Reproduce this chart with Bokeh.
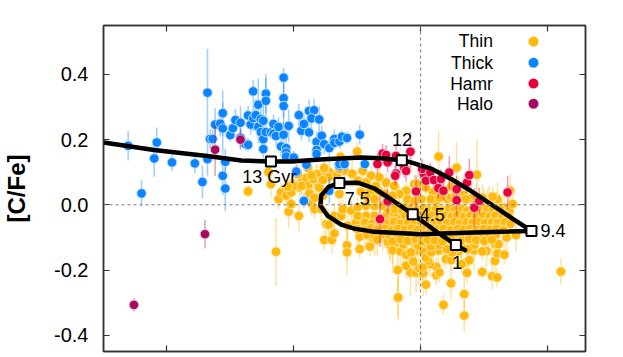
from bokeh.plotting import figure
from bokeh.embed import file_html
from bokeh.resources import INLINE
from bokeh.models import LinearAxis, FixedTicker, Span, Range1d, CustomLabelingPolicy
from bokeh.core.properties import value

y_ticks = [-0.4, -0.2, 0.0, 0.2, 0.4]
y_tick_labels = ["-0.4", "-0.2", "0.0", "0.2", "0.4"]
x_ticks = [-1.0, -0.5, 0.0, 0.5]

thick_feh = [-1.153,-1.04,-1.05,-0.98,-0.89,-0.86,-1.10,-0.84,-0.84,-0.81,-0.83,-0.82,-0.79,-0.78,-0.78,-0.75,-0.74,-0.73,-0.71,-0.71,
 -0.69,-0.68,-0.68,-0.67,-0.66,-0.65,-0.66,-0.64,-0.64,-0.63,-0.62,-0.63,-0.62,-0.61,-0.61,-0.62,-0.61,-0.59,-0.58,-0.58,
 -0.57,-0.56,-0.54,-0.54,-0.54,-0.54,-0.52,-0.55,-0.53,-0.53,-0.53,-0.50,-0.49,-0.48,-0.47,-0.46,-0.44,-0.42,-0.43,-0.40,
 -0.44,-0.45,-0.41,-0.39,-0.38,-0.41,-0.41,-0.36,-0.34,-0.34,-0.32,-0.31,-0.29,-0.24,-0.32,-0.30,-0.77,-0.78,-0.77,-0.46,
 -0.32,-0.30,-0.22,-0.36]
thick_cfe = [0.181,0.191,0.142,0.13,0.127,0.07,0.035,0.344,0.14,0.246,0.202,0.202,0.249,0.281,0.234,0.214,0.235,0.26,0.252,0.206,
 0.186,0.184,0.274,0.246,0.266,0.275,0.348,0.307,0.239,0.263,0.258,0.223,0.201,0.341,0.319,0.171,0.223,0.222,0.248,0.218,
 0.211,0.239,0.215,0.39,0.327,0.303,0.242,0.179,0.174,0.16,0.148,0.145,0.102,0.275,0.227,0.248,0.288,0.29,0.265,0.262,
 0.222,0.123,0.193,0.212,0.186,0.168,0.156,0.174,0.202,0.19,0.194,0.209,0.205,0.215,0.12,0.125,0.132,0.089,0.05,0.012,
 0.125,0.125,0.125,0.043]
thick_err = [0.045,0.046,0.056,0.026,0.03,0.05,0.04,0.135,0.05,0.05,0.03,0.03,0.04,0.07,0.08,0.02,0.03,0.035,0.05,0.03,
 0.02,0.02,0.03,0.03,0.04,0.05,0.035,0.08,0.05,0.06,0.05,0.03,0.03,0.06,0.07,0.03,0.03,0.02,0.03,0.02,
 0.03,0.03,0.04,0.03,0.06,0.06,0.05,0.03,0.03,0.02,0.02,0.02,0.02,0.035,0.03,0.03,0.035,0.035,0.035,0.04,
 0.03,0.02,0.03,0.03,0.03,0.02,0.02,0.03,0.03,0.02,0.02,0.02,0.02,0.03,0.02,0.02,0.04,0.06,0.07,0.02,
 0.02,0.02,0.02,0.04]

hamr_feh = [-0.15,-0.136,-0.17,-0.13,-0.097,-0.04,-0.097,-0.10,-0.064,-0.057,-0.018,-0.13,-0.16,0.012,0.006,0.021,0.038,0.052,0.08,0.07,
 0.09,0.113,0.142,0.142,0.183,0.192,0.212,0.343,0.231]
hamr_cfe = [0.157,0.153,0.125,0.13,0.15,0.163,0.096,0.089,0.113,0.104,0.041,0.01,-0.044,0.096,0.11,0.074,0.099,0.076,0.079,0.051,
 0.043,0.099,0.048,0.014,0.068,0.091,-0.009,0.038,0.012]
hamr_err = [0.03,0.03,0.03,0.03,0.03,0.06,0.03,0.03,0.03,0.03,0.05,0.04,0.085,0.03,0.03,0.03,0.03,0.03,0.03,0.03,
 0.03,0.05,0.04,0.05,0.03,0.05,0.06,0.05,0.04]

halo_feh = [-0.81,-0.71,-0.85,-1.13]
halo_cfe = [0.169,0.20,-0.09,-0.307]
halo_err = [0.08,0.03,0.044,0.02]

thin_feh = [-0.29,-0.29,-0.24,-0.24,-0.20,-0.13,-0.09,-0.09,-0.04,-0.018,0.01,0.021,0.09,0.12,0.172,0.172,0.183,0.243,0.282,0.302,
 0.062,0.062,0.074,-0.007,-0.057,-0.029,-0.057,-0.038,0.038,0.03,0.021,0.041,0.041,0.008,0.10,0.12,0.124,0.104,0.183,0.192,
 0.162,0.243,0.212,0.293,0.303,0.294,0.553,-0.19,-0.09,-0.068,-0.038,-0.009,0.074,0.146,0.185,
 -0.68,-0.57,-0.088,-0.38,-0.35,-0.34,-0.52,-0.48,-0.51,-0.56,-0.55,-0.53,-0.51,-0.503,-0.59,-0.45,-0.444,-0.478,-0.438,-0.418,
 -0.418,-0.392,-0.405,-0.41,-0.38,-0.40,-0.363,-0.385,-0.372,-0.363,-0.34,-0.313,-0.287,-0.254,-0.32,-0.307,-0.274,-0.248,-0.215,-0.182,
 -0.248,-0.215,-0.182,-0.208,-0.182,-0.149,-0.117,-0.09,-0.064,-0.13,-0.104,-0.143,-0.11,-0.077,
 -0.25,-0.41,-0.316,-0.444,-0.408,-0.425,-0.385,-0.38,-0.484,-0.495,-0.47,-0.523,-0.228,-0.195,-0.163,-0.248,-0.215,-0.176,-0.136,-0.104,
 -0.143,-0.057,-0.025,-0.084,-0.11,-0.051,-0.025,0.071,0.142,0.222,-0.009,0.12,0.048,0.021,0.002,0.041,0.074,0.107,0.12,0.139,
 0.179,0.244,0.303,0.284,0.353,0.363,0.319,0.376,0.339,0.307,0.33,-0.60,-0.43]
thin_cfe = [-0.124,-0.146,-0.136,-0.098,-0.128,-0.113,-0.20,-0.286,-0.208,-0.208,-0.21,-0.245,-0.307,-0.241,-0.274,-0.34,-0.209,-0.206,-0.219,-0.223,
 -0.216,-0.19,-0.208,-0.194,-0.187,-0.174,-0.153,-0.146,-0.182,-0.172,-0.162,-0.146,-0.128,-0.192,-0.167,-0.17,-0.146,-0.136,-0.175,-0.17,
 -0.182,-0.143,-0.123,-0.172,-0.149,-0.121,-0.205,-0.10,-0.116,-0.121,-0.11,-0.126,-0.123,-0.131,-0.136,
 0.041,-0.144,-0.284,-0.108,-0.108,-0.088,-0.021,-0.034,0.002,0.017,0.038,0.028,0.038,0.063,0.063,0.082,0.058,0.053,0.035,0.022,
 -0.013,-0.013,0.058,0.092,0.102,0.053,0.084,0.028,-0.059,-0.061,-0.034,-0.034,-0.064,-0.054,0.033,-0.013,-0.018,-0.008,-0.003,-0.003,
 -0.034,-0.034,-0.034,0.022,0.017,-0.003,-0.008,-0.003,-0.008,-0.024,-0.029,-0.039,-0.049,-0.044,
 0.163,0.16,0.147,0.113,0.094,0.079,0.076,0.113,0.094,0.058,0.058,0.055,0.104,0.089,0.084,0.074,0.068,0.058,0.068,0.058,
 0.033,0.043,0.063,0.033,0.028,0.017,0.012,0.148,0.114,0.092,0.063,0.055,0.038,0.053,0.017,0.017,0.022,0.017,0.022,0.028,
 0.017,0.022,0.017,0.025,0.043,0.002,-0.018,-0.093,-0.10,-0.121,-0.153,0.10,0.09]
thin_err = [0.05,0.07,0.03,0.03,0.03,0.04,0.08,0.06,0.07,0.06,0.07,0.03,0.03,0.05,0.05,0.05,0.03,0.02,0.04,0.03,
 0.03,0.03,0.03,0.05,0.04,0.03,0.04,0.03,0.04,0.04,0.03,0.03,0.03,0.05,0.03,0.03,0.03,0.04,0.04,0.03,
 0.03,0.03,0.03,0.05,0.03,0.03,0.04,0.03,0.03,0.04,0.03,0.03,0.03,0.03,0.03,
 0.02,0.105,0.07,0.03,0.04,0.04,0.05,0.05,0.03,0.03,0.03,0.03,0.03,0.03,0.04,0.03,0.03,0.03,0.03,0.03,
 0.03,0.04,0.03,0.03,0.03,0.03,0.03,0.04,0.05,0.05,0.04,0.04,0.04,0.03,0.03,0.03,0.03,0.03,0.03,0.03,
 0.03,0.03,0.03,0.03,0.03,0.03,0.03,0.03,0.03,0.03,0.03,0.03,0.03,0.03,
 0.03,0.03,0.04,0.03,0.03,0.03,0.03,0.03,0.03,0.03,0.03,0.03,0.03,0.03,0.03,0.03,0.03,0.03,0.03,0.03,
 0.03,0.03,0.03,0.03,0.03,0.03,0.03,0.08,0.08,0.11,0.04,0.05,0.05,0.03,0.03,0.03,0.03,0.03,0.03,0.03,
 0.03,0.04,0.05,0.03,0.05,0.05,0.03,0.05,0.04,0.03,0.03,0.04,0.03]

extra_feh = [-0.235,-0.2,-0.165,-0.12,-0.07,-0.02,0.02,0.05,0.09,0.13,0.16,0.21,-0.11,-0.08,-0.02,0.01,0.07,0.15,0.21,0.26,
 0.06,0.09,0.15,0.17,0.2,0.22,0.25,0.27,0.3,0.33,0.35,-0.47,-0.43,-0.36,-0.33,-0.30,-0.27,-0.32]
extra_cfe = [0.04,0.038,0.042,-0.125,-0.128,-0.124,-0.127,-0.123,-0.126,-0.124,-0.128,-0.125,-0.14,-0.143,-0.141,-0.144,-0.14,-0.143,-0.14,-0.142,
 0.01,0.035,0.035,0.03,0.02,0.005,0.0,-0.002,-0.01,-0.01,-0.02,0.07,0.005,0.1,0.09,0.105,0.095,0.11]
extra_err = [0.03,0.03,0.03,0.05,0.06,0.05,0.06,0.05,0.06,0.05,0.05,0.05,0.07,0.06,0.05,0.07,0.06,0.05,0.06,0.05,
 0.04,0.05,0.05,0.06,0.05,0.06,0.05,0.06,0.05,0.05,0.05,0.04,0.04,0.05,0.04,0.05,0.04,0.05]

dense_feh = [-0.10,-0.072,-0.04,-0.016,0.012,0.033,0.061,0.083,0.112,0.134,0.162,0.184,0.212,0.233,0.262,0.284,0.312,
 -0.06,-0.031,-0.004,0.021,0.044,0.072,0.094,0.122,0.144,0.171,0.196,0.219,0.246,0.271,0.294,0.322,0.346,
 -0.22,-0.19,-0.162,-0.134,-0.104,-0.081,-0.05,-0.024,0.001,0.03,0.054,0.081,0.104,0.132,0.154,0.181,0.204,0.232,0.254,0.282,0.304,0.332,0.354,
 -0.25,-0.221,-0.196,-0.168,-0.141,-0.113,-0.09,-0.061,-0.034,-0.011,0.016,0.04,0.066,0.091,0.119,0.146,0.169,0.196,0.221,0.249,0.276,0.299,0.326,
 -0.211,-0.181,-0.149,-0.121,-0.094,-0.066,-0.039,-0.014,0.011,0.036,0.059,0.091,0.114,0.141,0.164,0.191,0.214,0.241,0.269,0.296,
 -0.171,-0.111,-0.079,-0.051,-0.019,0.006,0.029,0.056,0.086,0.121,0.159,0.191,0.219,0.251,0.281]
dense_cfe = [-0.013,-0.018,-0.012,-0.016,-0.011,-0.017,-0.013,-0.018,-0.012,-0.016,-0.014,-0.018,-0.012,-0.016,-0.013,-0.017,-0.014,
 -0.034,-0.037,-0.032,-0.036,-0.033,-0.038,-0.034,-0.036,-0.032,-0.037,-0.033,-0.036,-0.034,-0.037,-0.033,-0.036,-0.035,
 -0.054,-0.057,-0.053,-0.056,-0.052,-0.058,-0.054,-0.056,-0.053,-0.057,-0.054,-0.052,-0.056,-0.053,-0.058,-0.054,-0.056,-0.053,-0.057,-0.054,-0.056,-0.053,-0.058,
 -0.074,-0.077,-0.072,-0.076,-0.073,-0.078,-0.074,-0.076,-0.073,-0.077,-0.074,-0.072,-0.076,-0.073,-0.078,-0.074,-0.076,-0.073,-0.077,-0.074,-0.076,-0.073,-0.078,
 -0.092,-0.096,-0.091,-0.094,-0.093,-0.097,-0.092,-0.095,-0.091,-0.096,-0.093,-0.094,-0.097,-0.092,-0.095,-0.091,-0.096,-0.093,-0.094,-0.092,
 -0.107,-0.112,-0.106,-0.11,-0.105,-0.111,-0.107,-0.109,-0.112,-0.106,-0.11,-0.105,-0.108,-0.111,-0.107]
dense_err = [0.03,0.04,0.05,0.03,0.04,0.05,0.06,0.03,0.05,0.04,0.06,0.03,0.05,0.04,0.06,0.04,0.05,
 0.04,0.05,0.03,0.06,0.04,0.05,0.03,0.06,0.04,0.05,0.06,0.03,0.05,0.04,0.06,0.05,0.05,
 0.04,0.05,0.06,0.04,0.05,0.03,0.06,0.04,0.05,0.06,0.03,0.04,0.05,0.06,0.03,0.05,0.04,0.06,0.05,0.03,0.05,0.04,0.05,
 0.05,0.06,0.04,0.05,0.06,0.03,0.05,0.07,0.04,0.06,0.05,0.03,0.06,0.04,0.05,0.06,0.03,0.05,0.04,0.06,0.05,0.04,0.03,
 0.05,0.06,0.05,0.07,0.04,0.06,0.05,0.03,0.06,0.04,0.05,0.06,0.04,0.05,0.06,0.04,0.05,0.03,0.04,0.05,
 0.05,0.07,0.05,0.06,0.04,0.05,0.06,0.04,0.05,0.06,0.05,0.04,0.05,0.04,0.05]

track_feh = [-1.25,-1.051,-0.841,-0.707,-0.590,-0.510,-0.380,-0.235,-0.156,-0.074,-0.038,0.041,0.120,0.198,0.277,0.356,0.437,
 0.211,0.080,0.002,-0.182,-0.261,-0.313,-0.366,-0.395,-0.392,-0.363,-0.320,-0.248,-0.182,-0.117,-0.031,0.067,0.139,0.175]
track_cfe = [0.191,0.168,0.150,0.136,0.133,0.133,0.140,0.145,0.143,0.137,0.130,0.111,0.079,0.043,0.002,-0.039,-0.080,
 -0.085,-0.088,-0.090,-0.083,-0.073,-0.061,-0.034,-0.003,0.028,0.055,0.067,0.068,0.05,0.017,-0.029,-0.085,-0.123,-0.139]

age_feh = [-0.590,-0.074,0.437,-0.320,-0.031,0.139]
age_cfe = [0.133,0.137,-0.080,0.067,-0.029,-0.123]
age_labels = ["13 Gyr","12","9.4","7.5","4.5","1"]
age_label_feh = [-0.597,-0.073,0.522,-0.25,0.046,0.144]
age_label_cfe = [0.086,0.20,-0.08,0.02,-0.03,-0.178]

legend_names = ["Thin","Thick","Hamr","Halo"]
legend_colors = ["#FFB80C","#0A84FF","#E6003C","#A80A5F"]
legend_cfe = [0.501,0.436,0.372,0.31]

FONT = "Liberation Sans"
p = figure(width=623, height=357, output_backend="svg", toolbar_location=None,
           x_range=Range1d(-1.25,0.65), y_range=Range1d(-0.45,0.55), x_axis_type=None, y_axis_type=None,
           min_border_left=102, min_border_top=25, min_border_right=38, min_border_bottom=6,
           outline_line_color="#333333", outline_line_width=1.5, background_fill_color="white", border_fill_color="white")
p.grid.visible = False

NO_LABELS = CustomLabelingPolicy(code="return []")

def style(ax, labels):
    ax.axis_line_color = "#333333"
    ax.axis_line_width = 1.5
    ax.major_tick_in = 6; ax.major_tick_out = 0
    ax.minor_tick_in = 3; ax.minor_tick_out = 0
    ax.major_tick_line_color = "#333333"; ax.minor_tick_line_color = "#333333"
    ax.major_tick_line_width = 1.2; ax.minor_tick_line_width = 1.2
    if not labels:
        ax.major_label_text_font_size = "1px"
        ax.major_label_standoff = 0
        ax.major_label_policy = NO_LABELS

yt = FixedTicker(ticks=y_ticks, num_minor_ticks=4)
xt = FixedTicker(ticks=x_ticks, num_minor_ticks=5)
left = LinearAxis(ticker=yt, axis_label="[C/Fe]", axis_label_text_font=FONT, axis_label_text_font_size="24px",
                  axis_label_text_font_style="bold", axis_label_text_color="black", axis_label_standoff=21,
                  major_label_text_font=FONT, major_label_text_font_size="20px", major_label_text_color="black",
                  major_label_standoff=15, major_label_overrides=dict(zip(y_ticks, y_tick_labels)))
style(left, True)
p.add_layout(left, "left")
right = LinearAxis(ticker=yt); style(right, False); p.add_layout(right, "right")
bottom = LinearAxis(ticker=xt); style(bottom, False); p.add_layout(bottom, "below")
top = LinearAxis(ticker=xt); style(top, False); p.add_layout(top, "above")

p.add_layout(Span(location=0, dimension="width", line_color="#777777", line_dash="3 3", line_width=1))
p.add_layout(Span(location=0, dimension="height", line_color="#777777", line_dash="3 3", line_width=1))

def series(fx, fy, fe, col, halo, size=9.5):
    p.segment(fx, [a-b for a,b in zip(fy,fe)], fx, [a+b for a,b in zip(fy,fe)], line_color=col, line_alpha=0.4, line_width=1.5)
    p.scatter(fx, fy, size=size, fill_color=col, line_color=halo, line_width=1)

series(extra_feh+thin_feh+dense_feh, extra_cfe+thin_cfe+dense_cfe, extra_err+thin_err+dense_err, legend_colors[0], "#FFE6A8")
series(thick_feh, thick_cfe, thick_err, legend_colors[1], "#BBDDFF")
series(hamr_feh, hamr_cfe, hamr_err, legend_colors[2], "#F8C0D0")
series(halo_feh, halo_cfe, halo_err, legend_colors[3], "#E8C0D8")

p.line(track_feh, track_cfe, line_color="black", line_width=4.5, line_join="round", line_cap="round")
p.scatter(age_feh, age_cfe, marker="square", size=10, fill_color="white", line_color="black", line_width=2)
p.text(age_label_feh, age_label_cfe, text=age_labels, text_font=value(FONT), text_font_size="18px",
       text_color="black", text_align="center", text_baseline="middle")

p.text([0.285]*4, legend_cfe, text=legend_names, text_font=value(FONT), text_font_size="17.5px",
       text_color="black", text_align="right", text_baseline="middle")
p.scatter([0.445]*4, legend_cfe, size=10.5, fill_color=legend_colors, line_color="#ffffff", line_width=0.5)

open("out.html", "w").write(file_html(p, INLINE))
